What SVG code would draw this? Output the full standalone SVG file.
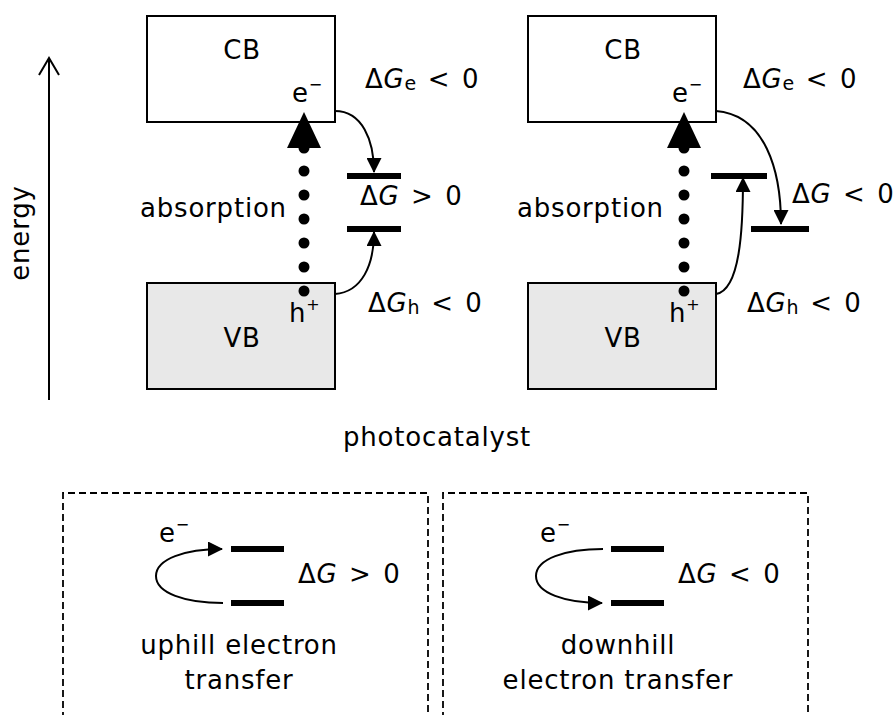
<svg xmlns="http://www.w3.org/2000/svg" width="896" height="715" viewBox="0 0 896 715">
<defs>
<style>
text{font-family:"DejaVu Sans","Verdana",sans-serif;font-size:26px;fill:#000;letter-spacing:0.8px}
.dg{word-spacing:2.5px}
.sup{font-size:16px}
.sub{font-size:19px;letter-spacing:0}
.it{font-style:italic}
.box{stroke:#000;stroke-width:2}
.lvl{stroke:#000;stroke-width:6}
.cur{fill:none;stroke:#000;stroke-width:2}
.dash{fill:none;stroke:#000;stroke-width:1.8;stroke-dasharray:7 4}
.mid{text-anchor:middle}
</style>
<marker id="ah" markerUnits="userSpaceOnUse" markerWidth="15" markerHeight="15" refX="14" refY="7.5" orient="auto">
<path d="M0,0 L15,7.5 L0,15 z" fill="#000"/>
</marker>
</defs>
<rect width="896" height="715" fill="#fff"/>

<g id="energy-axis">
<line x1="49" y1="400" x2="49" y2="58" stroke="#000" stroke-width="2"/>
<polyline points="39,75 49,58 59,75" fill="none" stroke="#000" stroke-width="2"/>
<text transform="translate(29,233) rotate(-90)" class="mid">energy</text>
</g>

<g id="left-cb">
<rect class="box" x="147" y="16" width="188" height="106" fill="#fff"/>
<text x="242" y="59" class="mid">CB</text>
<text x="292" y="102">e<tspan class="sup" dy="-12">−</tspan></text>
</g>
<g id="left-vb">
<rect class="box" x="147" y="283" width="188" height="106" fill="#e8e8e8"/>
<text x="242" y="347" class="mid">VB</text>
</g>
<g id="left-absorption">
<g fill="#000">
<circle cx="304" cy="148" r="5.5"/><circle cx="304" cy="171" r="5.5"/><circle cx="304" cy="195" r="5.5"/><circle cx="304" cy="219" r="5.5"/><circle cx="304" cy="243" r="5.5"/><circle cx="304" cy="267" r="5.5"/><circle cx="304" cy="291" r="5.5"/>
<polygon points="304,112 287,148 321,148"/>
</g>
<text x="140" y="217">absorption</text>
<text x="289" y="322">h<tspan class="sup" dy="-12">+</tspan></text>
</g>
<g id="left-levels">
<line class="lvl" x1="347" y1="176" x2="401" y2="176"/>
<line class="lvl" x1="347" y1="229" x2="401" y2="229"/>
<text class="dg" x="360" y="205">Δ<tspan class="it">G</tspan> &gt; 0</text>
<text class="dg" x="365" y="88">Δ<tspan class="it">G</tspan><tspan class="sub" dy="2">e</tspan><tspan dy="-2"> &lt; 0</tspan></text>
<text class="dg" x="368" y="312">Δ<tspan class="it">G</tspan><tspan class="sub" dy="2">h</tspan><tspan dy="-2"> &lt; 0</tspan></text>
</g>

<g id="right-cb">
<rect class="box" x="528" y="16" width="188" height="106" fill="#fff"/>
<text x="623" y="59" class="mid">CB</text>
<text x="672" y="102">e<tspan class="sup" dy="-12">−</tspan></text>
</g>
<g id="right-vb">
<rect class="box" x="528" y="283" width="188" height="106" fill="#e8e8e8"/>
<text x="623" y="347" class="mid">VB</text>
</g>
<g id="right-absorption">
<g fill="#000">
<circle cx="684" cy="148" r="5.5"/><circle cx="684" cy="171" r="5.5"/><circle cx="684" cy="195" r="5.5"/><circle cx="684" cy="219" r="5.5"/><circle cx="684" cy="243" r="5.5"/><circle cx="684" cy="267" r="5.5"/><circle cx="684" cy="291" r="5.5"/>
<polygon points="684,112 667,148 701,148"/>
</g>
<text x="517" y="217">absorption</text>
<text x="669" y="322">h<tspan class="sup" dy="-12">+</tspan></text>
</g>
<g id="right-levels">
<line class="lvl" x1="711" y1="176" x2="767" y2="176"/>
<line class="lvl" x1="751" y1="229" x2="809" y2="229"/>
<text class="dg" x="792" y="203">Δ<tspan class="it">G</tspan> &lt; 0</text>
<text class="dg" x="743" y="88">Δ<tspan class="it">G</tspan><tspan class="sub" dy="2">e</tspan><tspan dy="-2"> &lt; 0</tspan></text>
<text class="dg" x="747" y="312">Δ<tspan class="it">G</tspan><tspan class="sub" dy="2">h</tspan><tspan dy="-2"> &lt; 0</tspan></text>
</g>

<g id="caption">
<text x="437" y="446" class="mid">photocatalyst</text>
</g>

<g id="uphill-box">
<path class="dash" d="M63,730 L63,493 L428,493 L428,730"/>
<line class="lvl" x1="231" y1="549" x2="284" y2="549"/>
<line class="lvl" x1="231" y1="603" x2="284" y2="603"/>
<text x="159" y="542">e<tspan class="sup" dy="-12">−</tspan></text>
<text class="dg" x="298" y="583">Δ<tspan class="it">G</tspan> &gt; 0</text>
<text x="239" y="654" class="mid">uphill electron</text>
<text x="239" y="689" class="mid">transfer</text>
</g>
<g id="downhill-box">
<path class="dash" d="M443,730 L443,493 L808,493 L808,730"/>
<line class="lvl" x1="611" y1="549" x2="664" y2="549"/>
<line class="lvl" x1="611" y1="603" x2="664" y2="603"/>
<text x="540" y="542">e<tspan class="sup" dy="-12">−</tspan></text>
<text class="dg" x="678" y="583">Δ<tspan class="it">G</tspan> &lt; 0</text>
<text x="618" y="654" class="mid">downhill</text>
<text x="618" y="689" class="mid">electron transfer</text>
</g>

<g id="connectors">
<path class="cur" marker-end="url(#ah)" d="M335,111 C362,111 374,140 374,172"/>
<path class="cur" marker-end="url(#ah)" d="M335,294 C362,292 374,265 374,232"/>
<path class="cur" marker-end="url(#ah)" d="M716,111 C765,115 781,170 781,224"/>
<path class="cur" marker-end="url(#ah)" d="M716,294 C740,290 743,230 743,178"/>
<path class="cur" marker-end="url(#ah)" d="M223,603 C185,603 156,593 156,576 C156,559 185,549 222,549"/>
<path class="cur" marker-end="url(#ah)" d="M603,549 C565,549 536,559 536,576 C536,593 565,603 602,603"/>
</g>
</svg>
